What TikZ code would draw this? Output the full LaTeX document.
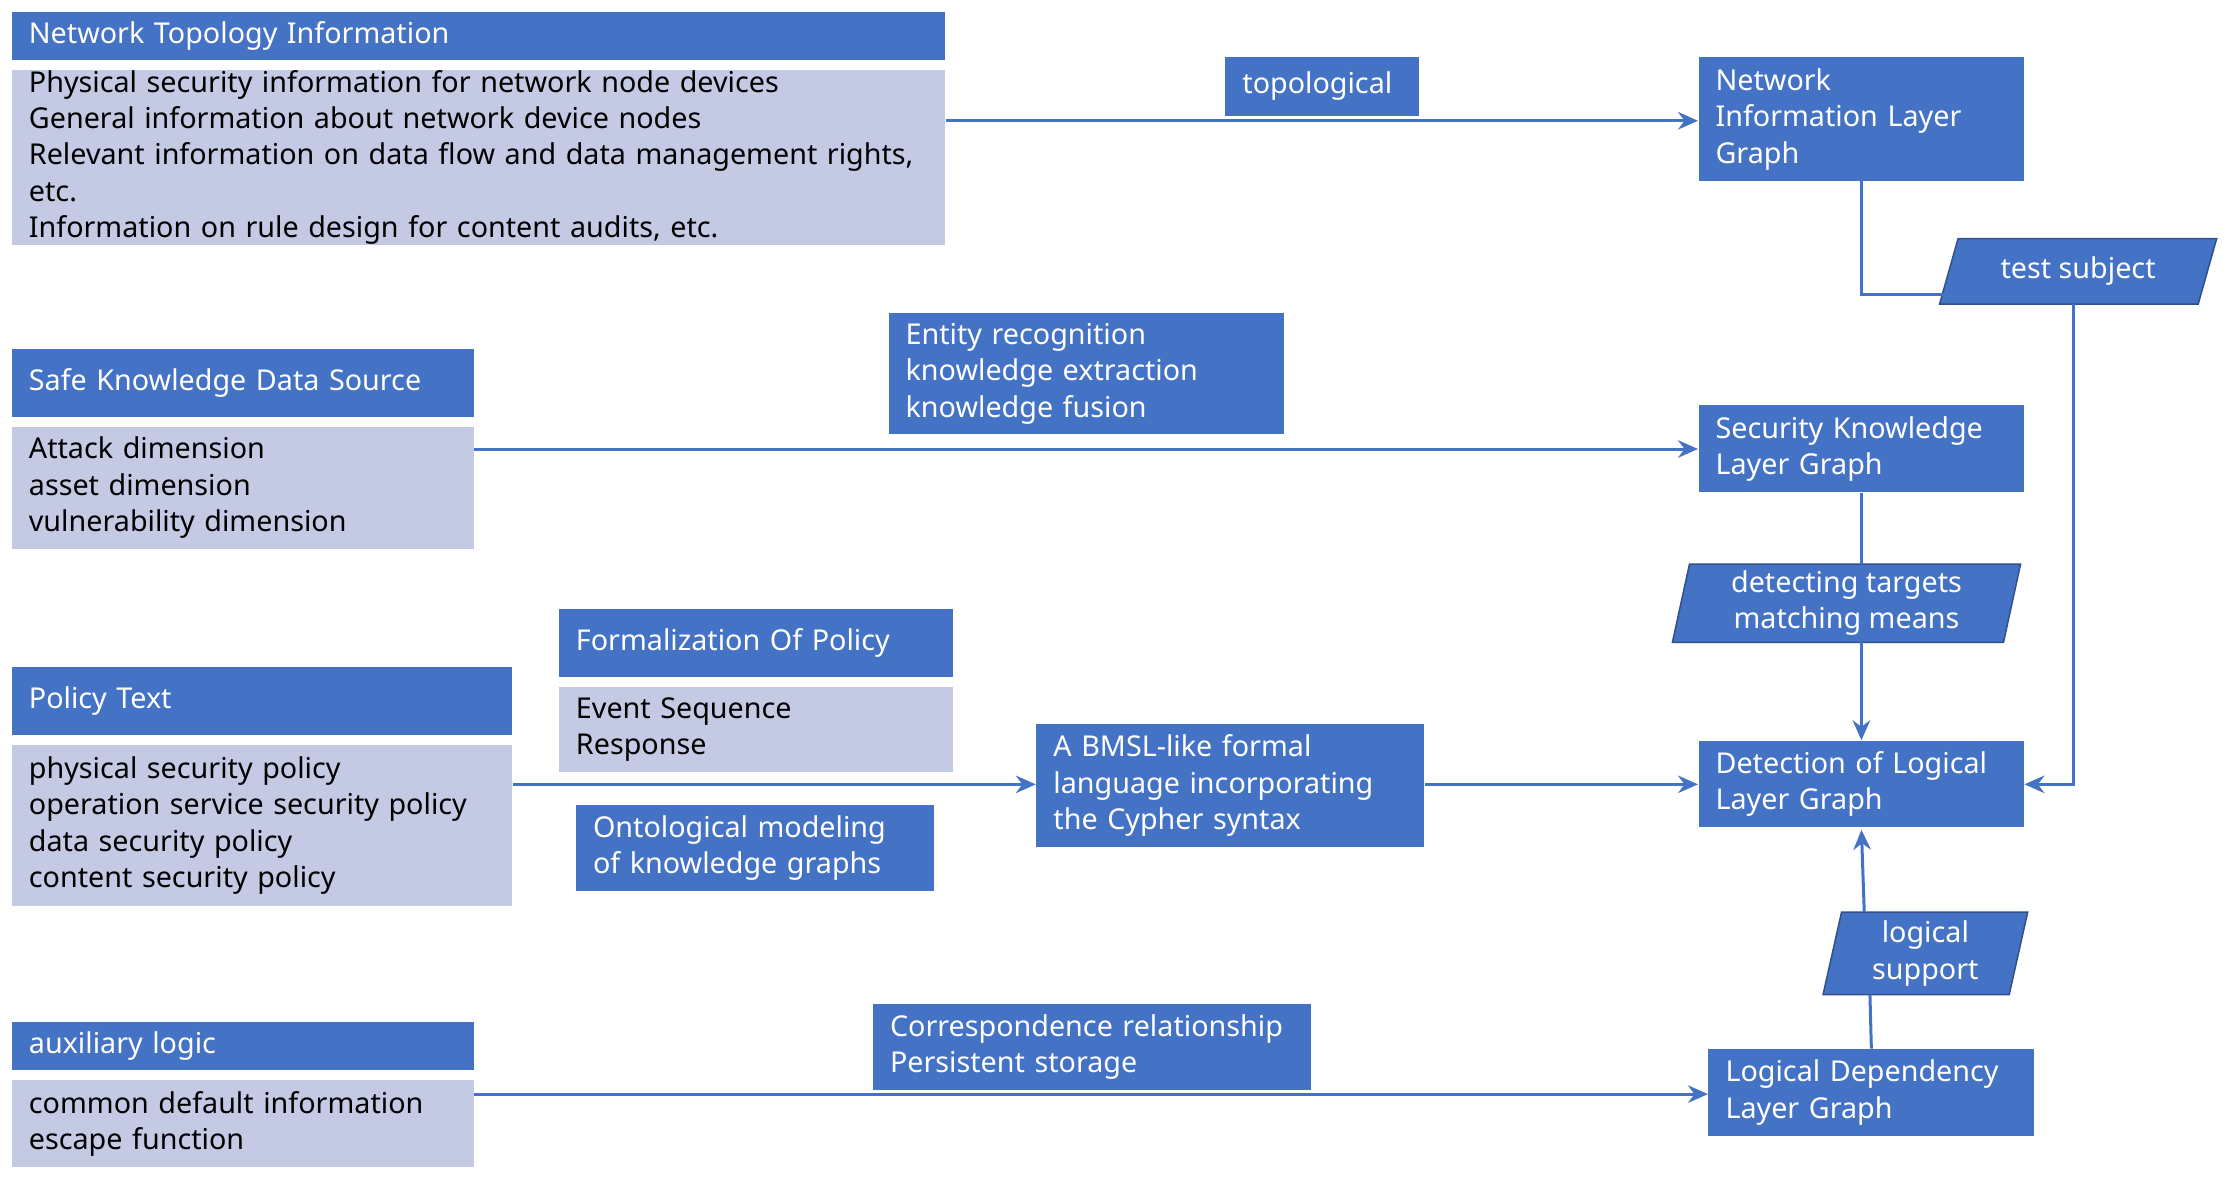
\documentclass[tikz,border=0pt]{standalone}
\usepackage{fontspec}
\setmainfont{Noto Sans}
\usetikzlibrary{arrows.meta}
\definecolor{dk}{HTML}{4472C4}
\definecolor{lt}{HTML}{C4CAE4}
\tikzset{
 hd/.style={fill=dk,text=white,font=\bfseries\fontsize{11.5}{14.6}\selectfont},
 bd/.style={fill=lt,text=black,font=\fontsize{11.5}{14.6}\selectfont},
 pl/.style={fill=dk,draw=dk!70!black,line width=0.6pt},
 ln/.style={draw=dk,line width=1.2pt},
 ar/.style={ln,-{Stealth[length=8pt,width=7pt]}},
}
% \B{name}{x1}{y1}{x2}{y2}{style}{text}
\newcommand\B[7]{\node[#6,anchor=north west,inner xsep=0pt,inner ysep=0pt,
  minimum width={0.02cm*(#4-#2)},minimum height={0.02cm*(#5-#3)},
  text width={0.02cm*(#4-#2)-0.48cm},align=left] (#1) at (#2,#3) {#7};}
% parallelogram \P{name}{x1}{y1}{x2}{y2}{slant}{text}
\newcommand\PG[7]{\draw[pl] (#2+#6,#3)--(#4,#3)--(#4-#6,#5)--(#2,#5)--cycle;
  \node[text=white,align=center,font=\fontsize{11.5}{14.6}\selectfont] (#1) at ({(#2+#4)/2},{(#3+#5)/2}) {#7};}
\begin{document}
\begin{tikzpicture}[x=0.02cm,y=-0.02cm]
\useasboundingbox (0,0) rectangle (1568,830);
\B{h1}{8}{8}{665}{42}{hd}{Network Topology Information}
\B{b1}{8}{49}{665}{163}{bd}{Physical security information for network node devices\\General information about network device nodes\\Relevant information on data flow and data management rights, etc.\\Information on rule design for content audits, etc.}
\B{top}{862}{40}{998}{81}{hd}{topological}
\B{nil}{1195}{40}{1424}{127}{hd}{Network\\Information Layer\\Graph}
\B{h2}{8}{245}{333}{293}{hd}{Safe Knowledge Data Source}
\B{b2}{8}{300}{333}{386}{bd}{Attack dimension\\asset dimension\\vulnerability dimension}
\B{ent}{625}{220}{903}{305}{hd}{Entity recognition\\knowledge extraction\\knowledge fusion}
\B{skl}{1195}{285}{1424}{346}{hd}{Security Knowledge\\Layer Graph}
\B{h3}{393}{428}{670}{476}{hd}{Formalization Of Policy}
\B{b3}{393}{483}{670}{543}{bd}{Event Sequence\\Response}
\B{h4}{8}{469}{360}{517}{hd}{Policy Text}
\B{b4}{8}{524}{360}{637}{bd}{physical security policy\\operation service security policy\\data security policy\\content security policy}
\B{ont}{405}{566}{657}{627}{hd}{Ontological modeling\\of knowledge graphs}
\B{bm}{729}{509}{1002}{596}{hd}{A BMSL-like formal\\language incorporating\\the Cypher syntax}
\B{det}{1195}{521}{1424}{582}{hd}{Detection of Logical\\Layer Graph}
\B{h5}{8}{719}{333}{753}{hd}{auxiliary logic}
\B{b5}{8}{760}{333}{821}{bd}{common default information\\escape function}
\B{cor}{614}{706}{922}{767}{hd}{Correspondence relationship\\Persistent storage}
\B{ldl}{1202}{738}{1431}{799}{hd}{Logical Dependency\\Layer Graph}
\PG{ts}{1365}{168}{1560}{214}{13}{test subject}
\PG{dt}{1177}{397}{1422}{452}{12}{detecting targets\\matching means}
\PG{ls}{1283}{642}{1427}{700}{13}{logical\\support}
% connectors
\draw[ar] (b1.east|-0,85) -- (nil.west|-0,85);
\draw[ar] (b2.east|-0,316) -- (skl.west|-0,316);
\draw[ar] (b4.east|-0,552) -- (bm.west|-0,552);
\draw[ar] (bm.east|-0,552) -- (det.west|-0,552);
\draw[ar] (b5.east|-0,770) -- (ldl.west|-0,770);
\coordinate (c1) at (1310,207);
\draw[ln] (nil.south-|c1) -- (c1) -- (1370,207);
\coordinate (c2) at (1459,552);
\draw[ar] (1459,214) -- (c2) -- (det.east|-c2);
\draw[ln] (skl.south-|c1) -- (1310,397);
\draw[ar] (1310,452) -- (det.north-|c1);
\draw[ln] (1317,738) -- (1316,700);
\draw[ar] (1312,642) -- (1310,584);
\end{tikzpicture}
\end{document}
